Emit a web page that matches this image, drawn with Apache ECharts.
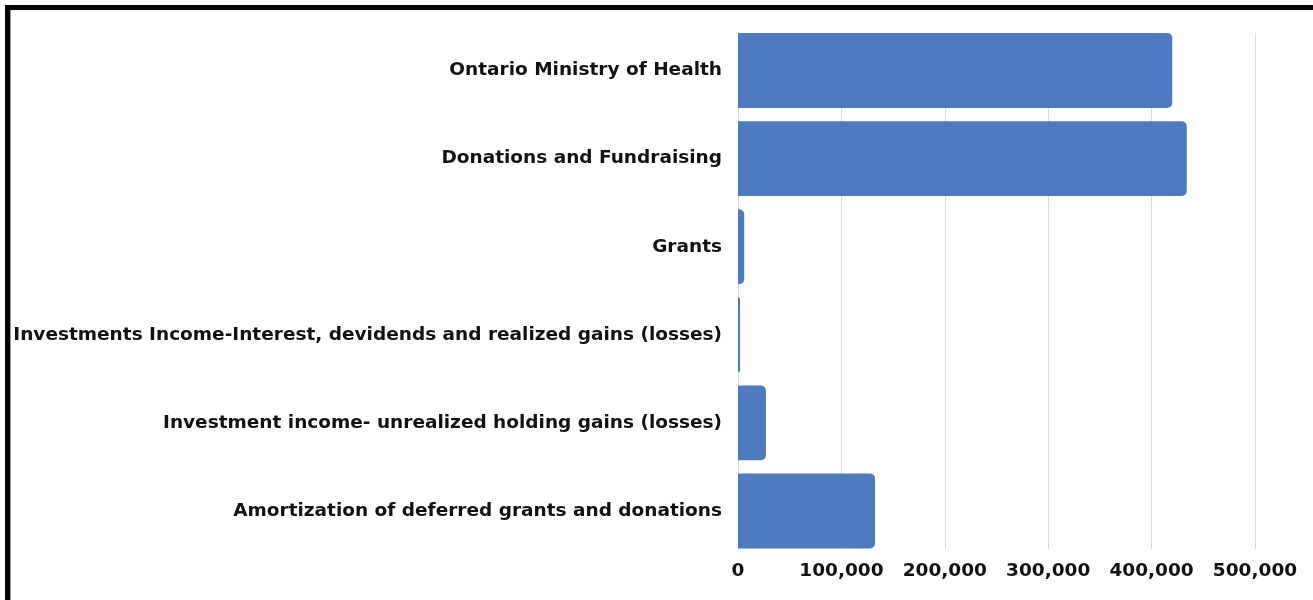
<!doctype html>
<html>
<head>
<meta charset="utf-8">
<title>Revenue</title>
<script type="text/javascript" src="https://cdn.jsdelivr.net/npm/echarts@6/dist/echarts.min.js"></script>
</head>

<body style="margin:0;padding:0;background:#fff">
<!--frame at top and left!-->
<div style="position:absolute;left:5px;top:5px;width:1308px;height:5px;background:#000;z-index:2"></div>
<div style="position:absolute;left:5px;top:5px;width:5px;height:595px;background:#000;z-index:2"></div>
<div style="position:absolute;left:10px;top:10px;width:1px;height:590px;background:#9a9a9a;z-index:2"></div>
<div id="tb" style="position:absolute;left:0;top:0;width:1313px;height:600px;"></div>
<script>
// data
var categories = [
  'Ontario Ministry of Health',
  'Donations and Fundraising',
  'Grants',
  'Investments Income-Interest, devidends and realized gains (losses)',
  'Investment income- unrealized holding gains (losses)',
  'Amortization of deferred grants and donations'
];
var amounts = [420000, 434000, 6000, 2000, 27000, 132500];
var xTicks = { min: 0, max: 500000, step: 100000 };

var fontName = 'DejaVu Sans';
var bt = document.getElementById('tb');
var btchart = echarts.init(bt, null, { renderer: 'canvas' });

btchart.setOption({
  animation: false,
  // grid 0 holds the bars, grid 1 only draws gridlines/axis (they stop at the bar edges)
  grid: [
    { left: 738, right: 58, top: 26.5, bottom: 45, containLabel: false },
    { left: 738, right: 58, top: 33, bottom: 51, containLabel: false }
  ],
  xAxis: [
    {
      gridIndex: 0,
      type: 'value',
      min: xTicks.min,
      max: xTicks.max,
      interval: xTicks.step,
      axisLine: { show: false },
      axisTick: { show: false },
      splitLine: { show: false },
      axisLabel: { show: false }
    },
    {
      gridIndex: 1,
      type: 'value',
      min: xTicks.min,
      max: xTicks.max,
      interval: xTicks.step,
      axisLine: { show: false },
      axisTick: { show: false },
      splitLine: { lineStyle: { color: '#d9d9d9', width: 1 } },
      axisLabel: {
        margin: 13,
        color: '#111',
        fontFamily: fontName,
        fontWeight: 700,
        fontSize: 18.5,
        formatter: function (v) { return v.toLocaleString('en-US'); }
      }
    }
  ],
  yAxis: [
    {
      gridIndex: 0,
      type: 'category',
      inverse: true,
      data: categories,
      axisLine: { show: false },
      axisTick: { show: false },
      axisLabel: {
        margin: 16,
        color: '#111',
        fontFamily: fontName,
        fontWeight: 700,
        fontSize: 18.5
      }
    },
    {
      gridIndex: 1,
      type: 'category',
      inverse: true,
      data: categories,
      axisLine: { show: true, lineStyle: { color: '#d9d9d9', width: 1 } },
      axisTick: { show: false },
      axisLabel: { show: false }
    }
  ],
  series: [
    {
      name: 'Revenue',
      type: 'bar',
      xAxisIndex: 0,
      yAxisIndex: 0,
      z: 3,
      data: amounts,
      barCategoryGap: '15%',
      itemStyle: {
        color: '#4e7bbf',
        borderRadius: [0, 5, 5, 0]
      }
    }
  ]
});
</script>
</body>
</html>
